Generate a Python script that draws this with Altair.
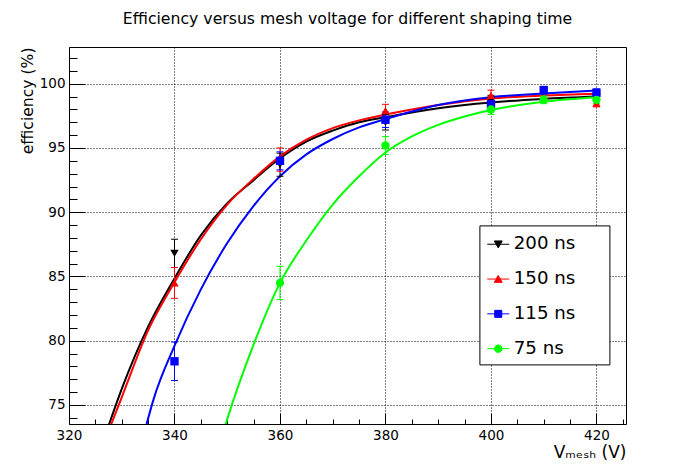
import altair as alt
import pandas as pd

FONT = "DejaVu Sans"
BLANK = "\u2800"

series = ["200 ns", "150 ns", "115 ns", "75 ns"]
colors = ["#000000", "#ff0000", "#0000ff", "#00ff00"]
marker_shapes = ["triangle-down", "triangle-up", "square", "circle"]
legend_shapes = [
    "M-1,0H1M-0.36,-0.3H0.36L0,0.33Z",
    "M-1,0H1M-0.36,0.3H0.36L0,-0.33Z",
    "M-1,0H1M-0.32,-0.32H0.32V0.32H-0.32Z",
    "M-1,0H1M-0.34,0A0.34,0.34,0,1,1,0.34,0A0.34,0.34,0,1,1,-0.34,0Z",
]

# measured efficiencies (%) with errors
v_200 = [340, 360, 380, 400, 420]
eff_200 = [86.8, 93.7, 97.0, 98.7, 99.0]
err_200 = [1.1, 0.9, 0.6, 0.4, 0.3]

v_150 = [340, 360, 380, 400, 420]
eff_150 = [84.5, 94.1, 97.9, 99.1, 98.5]
err_150 = [1.2, 0.9, 0.5, 0.4, 0.3]

v_115 = [340, 360, 380, 400, 410, 420]
eff_115 = [78.4, 94.0, 97.2, 98.4, 99.5, 99.3]
err_115 = [1.5, 0.7, 0.6, 0.4, 0.3, 0.3]

v_75 = [360, 380, 400, 410, 420]
eff_75 = [84.5, 95.2, 98.0, 98.75, 98.75]
err_75 = [1.3, 0.7, 0.4, 0.3, 0.3]

# fitted curves
fit_v_200 = [327.6, 330, 335, 340, 345, 350, 355, 360, 365, 370, 375, 380, 390, 400, 410, 420]
fit_e_200 = [73.5, 76.25, 81.1, 84.85, 88.2, 90.7, 92.5, 94.2, 95.5, 96.35, 97.0, 97.4, 98.1, 98.55, 98.82, 99.0]
fit_v_150 = [328.0, 330, 335, 340, 345, 350, 355, 360, 365, 370, 375, 380, 390, 400, 410, 420]
fit_e_150 = [73.5, 75.6, 80.8, 84.55, 87.9, 90.6, 92.6, 94.35, 95.65, 96.55, 97.15, 97.6, 98.35, 98.85, 99.08, 99.22]
fit_v_115 = [334.7, 336, 340, 345, 350, 355, 360, 365, 370, 375, 380, 390, 400, 410, 420]
fit_e_115 = [73.5, 75.4, 79.6, 84.0, 87.6, 90.5, 92.8, 94.5, 95.7, 96.6, 97.25, 98.35, 98.95, 99.25, 99.48]
fit_v_75 = [349.7, 350, 355, 360, 365, 370, 375, 380, 385, 390, 395, 400, 410, 420]
fit_e_75 = [73.5, 73.9, 79.7, 84.5, 87.8, 90.6, 92.8, 94.65, 95.9, 96.8, 97.45, 97.95, 98.6, 98.95]

x_major = [320, 340, 360, 380, 400, 420]
x_minor = [325, 330, 335, 345, 350, 355, 365, 370, 375, 385, 390, 395, 405, 410, 415, 425]
y_major = [75, 80, 85, 90, 95, 100]
y_minor = [74, 76, 77, 78, 79, 81, 82, 83, 84, 86, 87, 88, 89, 91, 92, 93, 94, 96, 97, 98, 99, 101, 102]

x_domain = [320, 425.6]
y_domain = [73.52, 102.86]

W, H = 557, 377

meas = [(v_200, eff_200, err_200), (v_150, eff_150, err_150),
        (v_115, eff_115, err_115), (v_75, eff_75, err_75)]
fits = [(fit_v_200, fit_e_200), (fit_v_150, fit_e_150),
        (fit_v_115, fit_e_115), (fit_v_75, fit_e_75)]

pts_rows, cap_rows, fit_rows = [], [], []
for s, (vs, es, ers) in zip(series, meas):
    for v, e, er in zip(vs, es, ers):
        pts_rows.append({"series": s, "v": v, "eff": e, "lo": e - er, "hi": e + er})
        cap_rows.append({"series": s, "v": v, "y": e - er})
        cap_rows.append({"series": s, "v": v, "y": e + er})
for s, (fv, fe) in zip(series, fits):
    for v, e in zip(fv, fe):
        fit_rows.append({"series": s, "v": v, "eff": e})

pts = pd.DataFrame(pts_rows)
caps = pd.DataFrame(cap_rows)
fitdf = pd.DataFrame(fit_rows)

XS = alt.Scale(domain=x_domain, nice=False, zero=False)
YS = alt.Scale(domain=y_domain, nice=False, zero=False)
color = alt.Color("series:N", scale=alt.Scale(domain=series, range=colors), legend=None)


def tick_axis(orient, offset, values, size):
    return alt.Axis(orient=orient, offset=offset, values=values, ticks=True,
                    tickSize=size, tickColor="black", tickWidth=1, labels=False,
                    domain=False, grid=False, title=None)


axis_x_main = alt.Axis(
    orient="bottom", values=x_major, ticks=False, domain=False, grid=True,
    gridColor="black", gridDash=[1, 2], gridWidth=1, gridOpacity=1,
    labelFont=FONT, labelFontSize=13.5, labelColor="black", labelPadding=4,
    labelFlush=False, labelOverlap=False,
    title="Vₘₑₛₕ (V)", titleFont=FONT, titleFontSize=17, titleFontWeight="normal",
    titleColor="black", titleAnchor="end", titlePadding=3)

axis_y_main = alt.Axis(
    orient="left", values=y_major, ticks=False, domain=False, grid=True,
    gridColor="black", gridDash=[1, 2], gridWidth=1, gridOpacity=1,
    labelFont=FONT, labelFontSize=13.5, labelColor="black", labelPadding=4,
    labelFlush=False, labelOverlap=False,
    title="efficiency (%)", titleFont=FONT, titleFontSize=15.6, titleFontWeight="normal",
    titleColor="black", titleAnchor="end", titlePadding=4)

fit_layer = alt.Chart(fitdf).mark_line(strokeWidth=2, clip=True, interpolate="monotone").encode(
    x=alt.X("v:Q", scale=XS, axis=axis_x_main),
    y=alt.Y("eff:Q", scale=YS, axis=axis_y_main),
    color=color,
    detail="series:N",
)

rule_layer = alt.Chart(pts).mark_rule(strokeWidth=1, clip=True).encode(
    x=alt.X("v:Q", scale=XS, axis=tick_axis("top", -H, x_major, 11)),
    y=alt.Y("lo:Q", scale=YS, axis=tick_axis("right", -W, y_major, 16)),
    y2="hi:Q",
    color=color,
)

cap_layer = alt.Chart(caps).mark_tick(orient="horizontal", size=7, thickness=1, opacity=1, clip=True).encode(
    x=alt.X("v:Q", scale=XS, axis=tick_axis("top", -H, x_minor, 5)),
    y=alt.Y("y:Q", scale=YS, axis=tick_axis("right", -W, y_minor, 8)),
    color=color,
)

point_layers = []
for s, shp in zip(series, marker_shapes):
    point_layers.append(
        alt.Chart(pts).transform_filter(alt.datum.series == s)
        .mark_point(filled=True, size=70, opacity=1, clip=True, shape=shp)
        .encode(
            x=alt.X("v:Q", scale=XS, axis=None),
            y=alt.Y("eff:Q", scale=YS, axis=None),
            color=color,
        )
    )

LEG = alt.Legend(
    title=None, orient="none", legendX=410.4, legendY=178.4, direction="vertical",
    symbolSize=484, symbolStrokeWidth=1, symbolOpacity=1,
    labelFont=FONT, labelFontSize=18.2, labelColor="black", labelOffset=4,
    labelExpr="datum.label + '" + BLANK * 2 + "'",
    rowPadding=14.8, padding=7.35, strokeColor="black", fillColor="white", cornerRadius=0,
)

legend_layer = alt.Chart(pts).mark_point(size=0, opacity=1, filled=True, strokeWidth=1).encode(
    x=alt.X("v:Q", scale=XS, axis=None),
    y=alt.Y("eff:Q", scale=YS, axis=None),
    fill=alt.Fill("series:N", scale=alt.Scale(domain=series, range=colors), legend=LEG),
    stroke=alt.Stroke("series:N", scale=alt.Scale(domain=series, range=colors), legend=LEG),
    shape=alt.Shape("series:N", scale=alt.Scale(domain=series, range=legend_shapes), legend=LEG),
)

chart = alt.layer(fit_layer, rule_layer, cap_layer, *point_layers, legend_layer).resolve_axis(
    x="independent", y="independent"
).resolve_scale(
    fill="independent", stroke="independent", shape="independent"
).properties(
    width=W, height=H,
    title=alt.TitleParams(
        text="Efficiency versus mesh voltage for different shaping time",
        font=FONT, fontSize=15.7, fontWeight="normal", color="black",
        anchor="middle", frame="group", baseline="alphabetic", offset=7),
    padding={"left": 61, "top": 39, "right": 60, "bottom": 40},
    autosize="none",
    background="white",
).configure_view(stroke="black", strokeWidth=1)

chart.save("out.html", embed_options={"renderer": "svg", "actions": False})
